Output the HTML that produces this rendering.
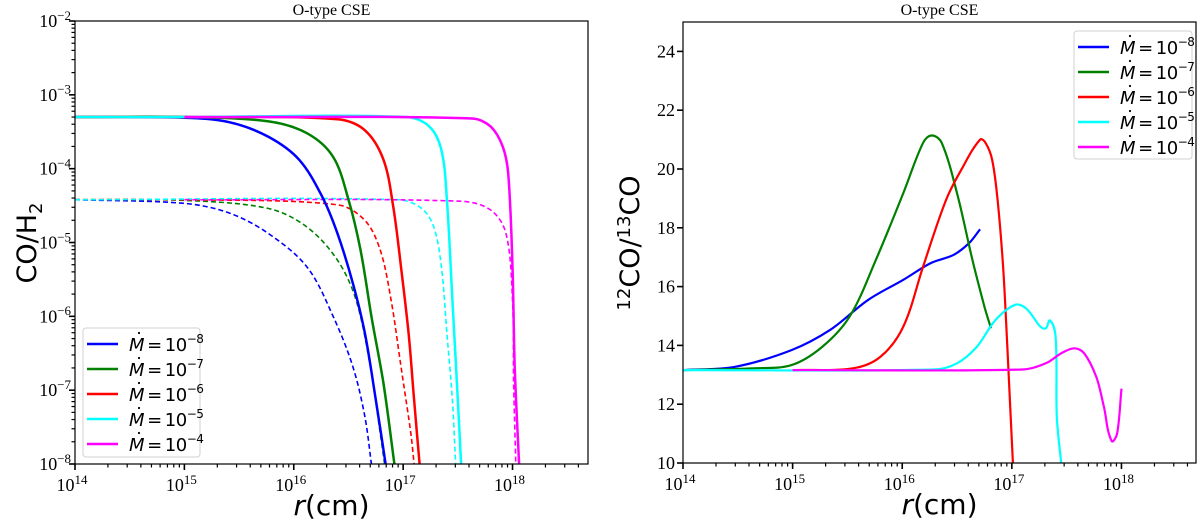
<!DOCTYPE html>
<html><head><meta charset="utf-8"><style>
html,body{margin:0;padding:0;background:#fff;width:1200px;height:523px;overflow:hidden}
svg text{font-family:"Liberation Serif",serif}
.sans{font-family:"DejaVu Sans","Liberation Sans",sans-serif}
</style></head><body>
<svg id="fig" width="1200" height="523" viewBox="0 0 1200 523" xmlns="http://www.w3.org/2000/svg"></svg>
<script>
// ---- data (log10 r, log10 CO/H2) left panel ----
const seriesNames = ["-8","-7","-6","-5","-4"];
const colors = ["#0000ff","#008000","#ff0000","#00ffff","#ff00ff"];
const solidX = [
 [14,15,15.41,15.77,16.05,16.26,16.40,16.54,16.65,16.75,16.84],
 [14,15,15.77,16.12,16.36,16.50,16.61,16.71,16.82,16.92],
 [14,15,16.40,16.65,16.82,16.91,16.98,17.05,17.10,17.15],
 [14,15,17.03,17.24,17.35,17.40,17.45,17.50,17.53],
 [15,17.63,17.80,17.91,17.96,18.0,18.02,18.06]];
const solidY = [
 [-3.30,-3.31,-3.37,-3.57,-3.88,-4.38,-4.88,-5.55,-6.23,-7.13,-8],
 [-3.30,-3.30,-3.36,-3.52,-3.84,-4.42,-5.10,-6.0,-6.91,-8],
 [-3.30,-3.30,-3.33,-3.48,-3.88,-4.52,-5.33,-6.23,-7.13,-8],
 [-3.30,-3.30,-3.30,-3.43,-3.75,-4.42,-5.78,-7.13,-8],
 [-3.30,-3.32,-3.43,-3.70,-4.06,-5.33,-6.68,-8]];
const dashX = [
 [14,15,15.41,15.77,16.12,16.36,16.54,16.65,16.71],
 [14,15,15.77,16.12,16.40,16.57,16.70,16.79,16.83],
 [14,15,16.40,16.65,16.79,16.89,16.98,17.07,17.10],
 [14,16.96,17.17,17.28,17.35,17.40,17.45,17.48],
 [15,17.52,17.80,17.94,18.0,18.01,18.03]];
const dashY = [
 [-4.42,-4.47,-4.60,-4.88,-5.33,-6.0,-6.68,-7.36,-8],
 [-4.42,-4.43,-4.54,-4.79,-5.24,-5.78,-6.68,-7.58,-8],
 [-4.42,-4.42,-4.49,-4.70,-5.10,-5.78,-6.68,-7.58,-8],
 [-4.42,-4.42,-4.54,-4.79,-5.33,-6.23,-7.13,-8],
 [-4.42,-4.44,-4.56,-4.88,-5.78,-6.91,-8]];
// ---- right panel: log10 r, 12CO/13CO ----
const ratioX = [
 [14,14.47,14.99,15.34,15.69,16.01,16.26,16.47,16.61,16.71],
 [14,14.64,14.99,15.27,15.52,15.76,16.01,16.19,16.27,16.36,16.50,16.64,16.75,16.81],
 [15,15.55,15.80,16.01,16.19,16.40,16.54,16.71,16.76,16.82,16.87,16.92,16.96,17.01],
 [14,16.29,16.50,16.68,16.85,17.03,17.13,17.26,17.31,17.35,17.40,17.41,17.45],
 [15,17.10,17.31,17.45,17.57,17.66,17.77,17.84,17.91,17.96,18.0]];
const ratioY = [
 [13.16,13.27,13.84,14.52,15.55,16.23,16.80,17.08,17.48,17.95],
 [13.16,13.22,13.33,13.95,14.98,16.91,19.18,20.89,21.14,20.89,19.18,16.91,15.32,14.58],
 [13.16,13.22,13.61,14.64,16.68,18.95,19.98,21.0,20.89,20.32,18.95,16.68,13.84,10],
 [13.16,13.18,13.39,13.95,14.86,15.38,15.26,14.64,14.58,14.84,14.24,11.57,10],
 [13.16,13.18,13.39,13.73,13.90,13.73,12.93,11.91,10.75,11.0,12.53]];
const xDecades = [14,15,16,17,18];
const yDecadesL = [-8,-7,-6,-5,-4,-3,-2];
const yTicksR = [10,12,14,16,18,20,22,24];

const NS="http://www.w3.org/2000/svg";
const svg=document.getElementById('fig');
function el(tag,attrs,parent){const e=document.createElementNS(NS,tag);for(const k in attrs)e.setAttribute(k,attrs[k]);(parent||svg).appendChild(e);return e;}

function makePanel(x0,x1,y0,y1,xmin,xmax,ymin,ymax,name){
  const g=el('g',{});
  
  
  return {g,sx:v=>x0+(v-xmin)/(xmax-xmin)*(x1-x0),sy:v=>y1-(v-ymin)/(ymax-ymin)*(y1-y0),x0,x1,y0,y1};
}
function sup(t,base,exp,fs){
  t.appendChild(document.createTextNode(base));
  const s=el('tspan',{dy:-fs*0.4,'font-size':fs*0.72},t);s.textContent=exp;
}
function xAxis(P){
  const ax=el('g',{},P.g);
  
  
  for(let d=14;d<=18;d++){
    for(let m=1;m<=9;m++){
      const v=d+Math.log10(m);const x=P.sx(v);if(x>P.x1+0.5)continue;
      el('line',{x1:x,x2:x,y1:P.y1,y2:P.y1+(m==1?6:3.5),stroke:'#000','stroke-width':m==1?1.6:1.2},ax);
    }
  }
  xDecades.forEach(d=>{
    const t=el('text',{x:P.sx(d)-3,y:P.y1+27,'text-anchor':'middle','font-size':18},ax);
    
    
    sup(t,'10',String(d),18);
  });
  const xl=el('text',{x:(P.x0+P.x1)/2,y:P.y1+51,'text-anchor':'middle','font-size':28,class:'sans'},ax);
  
  
  const it=el('tspan',{'font-style':'italic'},xl);it.textContent='r';
  xl.appendChild(document.createTextNode('(cm)'));
}
function frame(P,title){
  const r=el('rect',{x:P.x0,y:P.y0,width:P.x1-P.x0,height:P.y1-P.y0,fill:'none',stroke:'#000','stroke-width':1.2},P.g);
  
  
  const t=el('text',{x:(P.x0+P.x1)/2,y:15,'text-anchor':'middle','font-size':16},P.g);
  
  
  t.textContent=title;
}
function path(P,xs,ys,color,dash,w,name){
  const pts=xs.map((x,i)=>[P.sx(x),P.sy(ys[i])]);
  const n=pts.length;
  const tan=pts.map((p,i)=>{
    const a=pts[Math.max(0,i-1)],b=pts[Math.min(n-1,i+1)];
    const dx=b[0]-a[0],dy=b[1]-a[1],l=Math.hypot(dx,dy)||1;return [dx/l,dy/l];
  });
  let d='M'+pts[0][0].toFixed(1)+','+pts[0][1].toFixed(1);
  for(let i=0;i<n-1;i++){
    const p1=pts[i],p2=pts[i+1];
    const L=Math.hypot(p2[0]-p1[0],p2[1]-p1[1])*0.33;
    const c1=[p1[0]+tan[i][0]*L,p1[1]+tan[i][1]*L];
    const c2=[p2[0]-tan[i+1][0]*L,p2[1]-tan[i+1][1]*L];
    d+='C'+c1.map(v=>v.toFixed(1)).join(',')+' '+c2.map(v=>v.toFixed(1)).join(',')+' '+p2[0].toFixed(1)+','+p2[1].toFixed(1);
  }
  const p=el('path',{d,fill:'none',stroke:color,'stroke-width':w,'stroke-dasharray':dash||'none','stroke-linejoin':'round'},P.g);
  
  
}
function legend(P,lx,ly,w,h,name){
  const g=el('g',{},P.g);
  
  
  el('rect',{x:lx,y:ly,width:w,height:h,rx:3,fill:'#fff',stroke:'#d0d0d0','stroke-width':1},g);
  seriesNames.forEach((s,i)=>{
    const y=ly+16+i*25;
    const e=el('g',{},g);
    
    
    el('line',{x1:lx+4,x2:lx+35,y1:y,y2:y,stroke:colors[i],'stroke-width':2.5},e);
    const t=el('text',{x:lx+46,y:y+7,'font-size':18,class:'sans','letter-spacing':'-0.5'},e);
    const m=el('tspan',{'font-style':'italic'},t);m.textContent='M';
    t.appendChild(document.createTextNode('\u2009=\u200910'));
    const sp=el('tspan',{dy:-8,'font-size':12},t);sp.textContent='\u2212'+s.slice(1);
    el('circle',{cx:lx+56,cy:y-11,r:1.1,fill:'#000'},e);
  });
}

// ---- Left panel ----
const L=makePanel(75,588,21,464,14,18.69,-8,-2,'left-panel');
for(let d=-8;d<-2;d++)for(let m=2;m<=9;m++){const y=L.sy(d+Math.log10(m));el('line',{x1:L.x0-3.5,x2:L.x0,y1:y,y2:y,stroke:'#000','stroke-width':1.2},L.g);}
yDecadesL.forEach(d=>{
  const y=L.sy(d);el('line',{x1:L.x0-6,x2:L.x0,y1:y,y2:y,stroke:'#000','stroke-width':1.6},L.g);
  const t=el('text',{x:L.x0-4,y:y+6,'text-anchor':'end','font-size':18},L.g);
  
  
  sup(t,'10','\u2212'+(-d),18);
});
const yl=el('text',{transform:'translate(36,243) rotate(-90)','text-anchor':'middle','font-size':27,class:'sans'},L.g);


yl.appendChild(document.createTextNode('CO/H'));
const sb=el('tspan',{dy:6,'font-size':18},yl);sb.textContent='2';
seriesNames.forEach((s,i)=>path(L,dashX[i],dashY[i],colors[i],'5,3',1.6,'dashed-line-'+i));
seriesNames.forEach((s,i)=>path(L,solidX[i],solidY[i],colors[i],null,2.5,'solid-line-'+i));
frame(L,'O-type CSE');
xAxis(L);
legend(L,83,328,117,129,'legend-left');

// ---- Right panel ----
const R=makePanel(683,1196,22,463,14,18.68,10,25,'right-panel');
yTicksR.forEach(v=>{
  const y=R.sy(v);el('line',{x1:R.x0-6,x2:R.x0,y1:y,y2:y,stroke:'#000','stroke-width':1.6},R.g);
  const t=el('text',{x:R.x0-8,y:y+6,'text-anchor':'end','font-size':18},R.g);
  
  
  t.textContent=v;
});
const yr=el('text',{transform:'translate(639,243) rotate(-90)','text-anchor':'middle','font-size':27,class:'sans'},R.g);


const s1=el('tspan',{dy:-9,'font-size':18},yr);s1.textContent='12';
const c1=el('tspan',{dy:9},yr);c1.textContent='CO/';
const s2=el('tspan',{dy:-9,'font-size':18},yr);s2.textContent='13';
const c2=el('tspan',{dy:9},yr);c2.textContent='CO';
seriesNames.forEach((s,i)=>path(R,ratioX[i],ratioY[i],colors[i],null,2.2,'ratio-line-'+i));
frame(R,'O-type CSE');
xAxis(R);
legend(R,1074,31,118,128,'legend-right');
</script>
</body></html>
